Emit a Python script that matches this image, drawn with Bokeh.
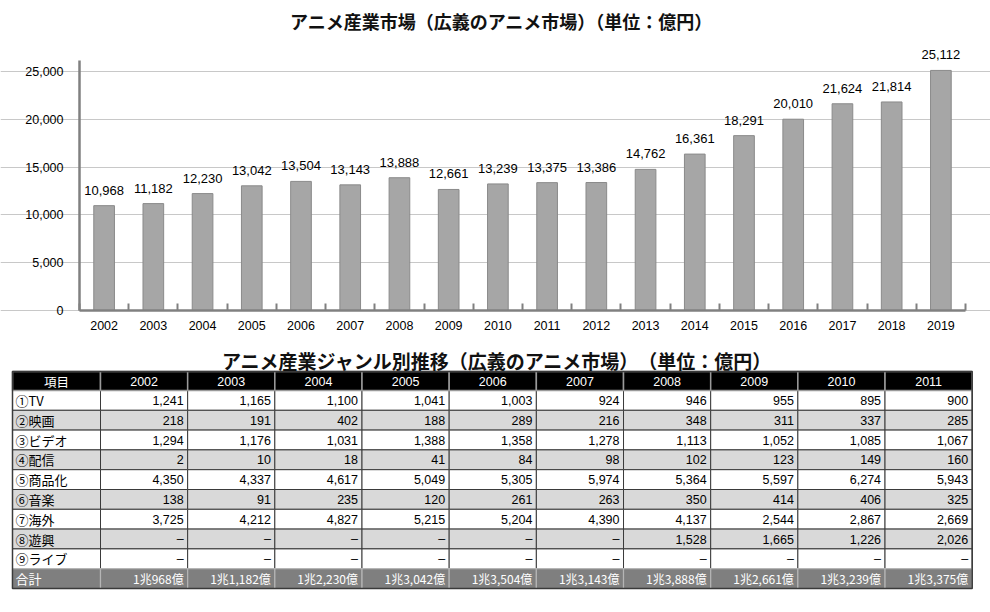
from bokeh.plotting import figure
from bokeh.models import (Range1d, FixedTicker, NumeralTickFormatter, ColumnDataSource,
                          LabelSet, SingleIntervalTicker)
from bokeh.layouts import column
from bokeh.embed import file_html
from bokeh.resources import INLINE
from bokeh.core.properties import value

# ---------------- data ----------------
years = list(range(2002, 2020))
market = [10968, 11182, 12230, 13042, 13504, 13143, 13888, 12661, 13239,
          13375, 13386, 14762, 16361, 18291, 20010, 21624, 21814, 25112]

table_years = list(range(2002, 2012))
items = ["①TV", "②映画", "③ビデオ", "④配信", "⑤商品化", "⑥音楽", "⑦海外", "⑧遊興", "⑨ライブ"]
tv = [1241, 1165, 1100, 1041, 1003, 924, 946, 955, 895, 900]
movie = [218, 191, 402, 188, 289, 216, 348, 311, 337, 285]
video = [1294, 1176, 1031, 1388, 1358, 1278, 1113, 1052, 1085, 1067]
streaming = [2, 10, 18, 41, 84, 98, 102, 123, 149, 160]
merch = [4350, 4337, 4617, 5049, 5305, 5974, 5364, 5597, 6274, 5943]
music = [138, 91, 235, 120, 261, 263, 350, 414, 406, 325]
overseas = [3725, 4212, 4827, 5215, 5204, 4390, 4137, 2544, 2867, 2669]
amusement = [None, None, None, None, None, None, 1528, 1665, 1226, 2026]
live = [None] * 10
genre_values = [tv, movie, video, streaming, merch, music, overseas, amusement, live]
totals = market[:10]

chart_title = "アニメ産業市場（広義のアニメ市場）（単位：億円）"
table_title = "アニメ産業ジャンル別推移（広義のアニメ市場）　（単位：億円）"

# ---------------- style ----------------
W = 990
H1 = 340
H2 = 272
JP = "Noto Sans CJK JP"
NUM = "Liberation Sans"
AXIS = "#808080"

# chart geometry (pixels): axis area from x=79 to x=965, y=0 at 310, 25000 at 71
AX_L, AX_R = 79, 965
AX_BOTTOM = 310
PX_PER_YEAR = (AX_R - AX_L) / len(years)
PX_PER_UNIT = (AX_BOTTOM - 71) / 25000
x_lo = years[0] - 0.5
x_hi = years[-1] + 0.5
x_start = x_lo - AX_L / PX_PER_YEAR
x_end = x_hi + (W - AX_R) / PX_PER_YEAR
y_start = -(H1 - AX_BOTTOM) / PX_PER_UNIT
y_end = AX_BOTTOM / PX_PER_UNIT
y_axis_top = (AX_BOTTOM - 60) / PX_PER_UNIT

def px_x(px):
    return x_start + px / PX_PER_YEAR

def px_y(py):
    return (AX_BOTTOM - py) / PX_PER_UNIT

# ---------------- bar chart ----------------
p = figure(width=W, height=H1, output_backend="svg", toolbar_location=None,
           x_range=Range1d(x_start, x_end), y_range=Range1d(y_start, y_end),
           min_border=0)

p.text(x=[px_x(501)], y=[px_y(20)], text=[chart_title], text_font=value(JP),
       text_font_style="bold", text_font_size="18px", text_align="center",
       text_baseline="middle", text_color="#111111")

src = ColumnDataSource(dict(year=years, value=market, label=[f"{v:,}" for v in market]))
p.vbar(x="year", top="value", width=0.42, source=src,
       fill_color="#a6a6a6", line_color="#8a8a8a", line_width=1)
labels = LabelSet(x="year", y="value", text="label", source=src, text_align="center",
                  text_baseline="alphabetic", y_offset=11, text_font=value(NUM),
                  text_font_size=value("13px"), text_color="#000000", level="overlay")
p.add_layout(labels)

p.yaxis.fixed_location = x_lo
p.yaxis.bounds = (0, y_axis_top)
p.yaxis.ticker = FixedTicker(ticks=list(range(0, 25001, 5000)), minor_ticks=[])
p.yaxis.formatter = NumeralTickFormatter(format="0,0")
p.yaxis.major_tick_in = 0
p.yaxis.major_tick_out = 0
p.yaxis.minor_tick_in = 0
p.yaxis.minor_tick_out = 0
p.yaxis.major_label_standoff = 16

p.xaxis.fixed_location = 0
p.xaxis.bounds = (x_lo, x_hi)
p.xaxis.ticker = FixedTicker(ticks=years, minor_ticks=[y - 0.5 for y in years] + [x_hi])
p.xaxis.major_label_overrides = {y: str(y) for y in years}
p.xaxis.major_tick_in = 0
p.xaxis.major_tick_out = 0
p.xaxis.minor_tick_in = 7
p.xaxis.minor_tick_out = 0
p.xaxis.minor_tick_line_color = AXIS
p.xaxis.minor_tick_line_width = 2
p.xaxis.major_label_standoff = 10

for ax in (p.xaxis, p.yaxis):
    ax.axis_line_color = AXIS
    ax.axis_line_width = 2.5
    ax.major_label_text_font = NUM
    ax.major_label_text_font_size = "12.5px"
    ax.major_label_text_color = "#000000"

p.xgrid.visible = False
p.ygrid.grid_line_color = "#c8c8c8"
p.ygrid.grid_line_width = 1
p.ygrid.bounds = (x_lo, x_hi)
p.outline_line_color = None

# ---------------- table ----------------
t = figure(width=W, height=H2, output_backend="svg", toolbar_location=None,
           x_range=Range1d(0, W), y_range=Range1d(H2, 0), min_border=0,
           x_axis_location=None, y_axis_location=None)
t.grid.visible = False
t.outline_line_color = None

T_LEFT = 12
FIRST_W = 88
COL_W = 87.17
HEAD_TOP = 31
HEAD_H = 19
ROW_H = 19.8

ncol = len(table_years)
x_edges = [T_LEFT, T_LEFT + FIRST_W] + [T_LEFT + FIRST_W + COL_W * (k + 1) for k in range(ncol)]
row_tops = [HEAD_TOP] + [HEAD_TOP + HEAD_H + ROW_H * r for r in range(len(items) + 1)]
row_bots = [HEAD_TOP + HEAD_H] + [HEAD_TOP + HEAD_H + ROW_H * (r + 1) for r in range(len(items) + 1)]
nrows = len(row_tops)

def cells(r_list, fill_fn):
    L, R, T, B, F = [], [], [], [], []
    for r in r_list:
        for c in range(ncol + 1):
            L.append(x_edges[c]); R.append(x_edges[c + 1])
            T.append(row_tops[r]); B.append(row_bots[r])
            F.append(fill_fn(r))
    return dict(left=L, right=R, top=T, bottom=B, fill=F)

body = cells(range(1, nrows - 1), lambda r: "#ffffff" if (r - 1) % 2 == 0 else "#d9d9d9")
t.quad(left="left", right="right", top="top", bottom="bottom", fill_color="fill",
       line_color="#3a3a3a", line_width=1, source=ColumnDataSource(body))
head = cells([0], lambda r: "#000000")
t.quad(left="left", right="right", top="top", bottom="bottom", fill_color="fill",
       line_color="#9a9a9a", line_width=1.5, source=ColumnDataSource(head))
tot = cells([nrows - 1], lambda r: "#7f7f7f")
t.quad(left="left", right="right", top="top", bottom="bottom", fill_color="fill",
       line_color="#b5b5b5", line_width=1.2, source=ColumnDataSource(tot))
# outer border
t.quad(left=[x_edges[0]], right=[x_edges[-1]], top=[row_tops[0]], bottom=[row_bots[-1]],
       fill_color=None, line_color="#3a3a3a", line_width=1.5)

# table title
t.text(x=[497], y=[20], text=[table_title],
       text_font=value(JP), text_font_style="bold", text_font_size="19px",
       text_align="center", text_baseline="middle", text_color="#111111")

def mid(a, b):
    return (a + b) / 2

# header texts
t.text(x=[mid(x_edges[0], x_edges[1])], y=[mid(row_tops[0], row_bots[0])], text=["項目"],
       text_font=value(JP), text_font_size="12.5px", text_align="center",
       text_baseline="middle", text_color="#ffffff")
t.text(x=[mid(x_edges[c + 1], x_edges[c + 2]) for c in range(ncol)],
       y=[mid(row_tops[0], row_bots[0])] * ncol, text=[str(y) for y in table_years],
       text_font=value(NUM), text_font_size="12.5px", text_align="center",
       text_baseline="middle", text_color="#ffffff")

# item labels
t.text(x=[x_edges[0] + 3] * len(items),
       y=[mid(row_tops[r + 1], row_bots[r + 1]) for r in range(len(items))],
       text=items, text_font=value(JP), text_font_size="13px", text_align="left",
       text_baseline="middle", text_color="#000000")

# values
vx, vy, vt = [], [], []
for r, vals in enumerate(genre_values):
    for c, v in enumerate(vals):
        vx.append(x_edges[c + 2] - 4)
        vy.append(mid(row_tops[r + 1], row_bots[r + 1]))
        vt.append("–" if v is None else f"{v:,}")
t.text(x=vx, y=vy, text=vt, text_font=value(NUM), text_font_size="12.5px",
       text_align="right", text_baseline="middle", text_color="#000000")

# total row
rt = nrows - 1
t.text(x=[x_edges[0] + 3], y=[mid(row_tops[rt], row_bots[rt])], text=["合計"],
       text_font=value(JP), text_font_size="13px", text_align="left",
       text_baseline="middle", text_color="#ffffff")
t.text(x=[x_edges[c + 2] - 4 for c in range(ncol)], y=[mid(row_tops[rt], row_bots[rt])] * ncol,
       text=[f"{v // 10000}兆{v % 10000:,}億" for v in totals],
       text_font=value(JP), text_font_size="12px", text_align="right",
       text_baseline="middle", text_color="#ffffff")

layout = column(p, t, spacing=0)
open("out.html", "w").write(file_html(layout, INLINE))
